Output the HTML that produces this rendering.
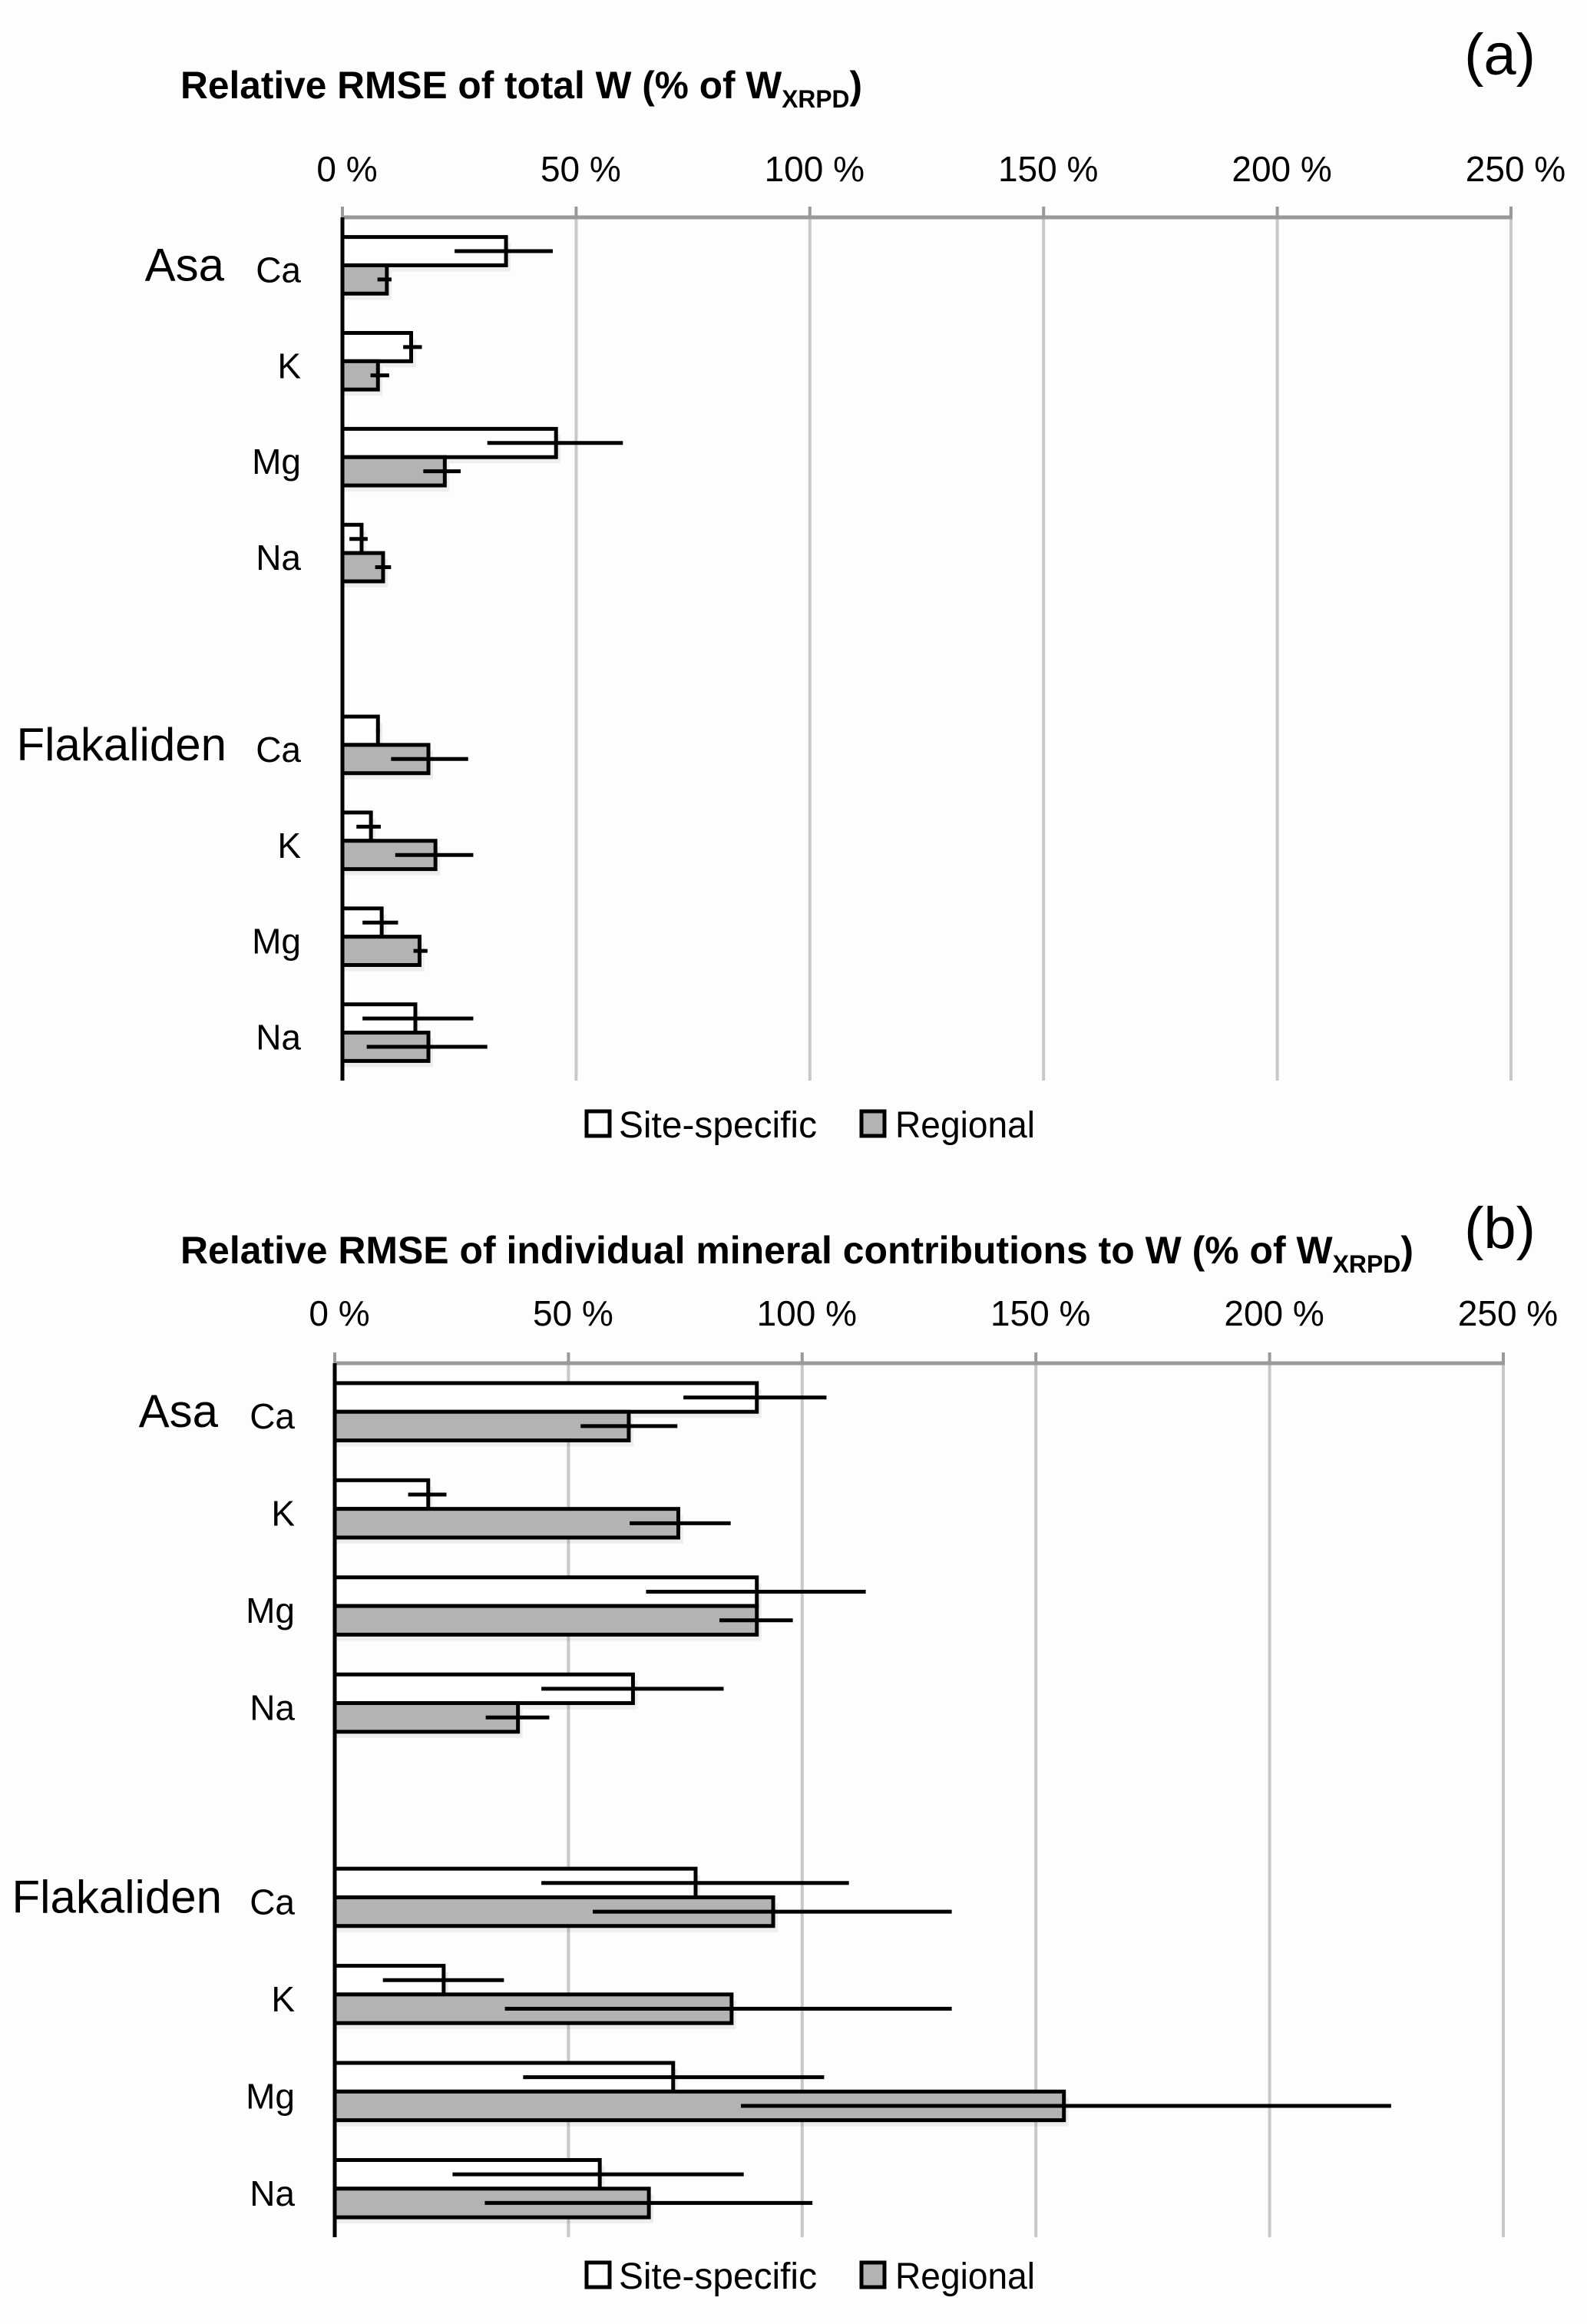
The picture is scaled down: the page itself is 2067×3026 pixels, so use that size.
<!DOCTYPE html>
<html><head><meta charset="utf-8"><style>
html,body{margin:0;padding:0;background:#fdfdfd;}
svg{display:block;}
text{font-family:"Liberation Sans",sans-serif;fill:#000;}
</style></head><body>
<svg id="chart" width="2067" height="3026" viewBox="0 0 2067 3026" xmlns="http://www.w3.org/2000/svg">
<rect x="0" y="0" width="2067" height="3026" fill="#fdfdfd"/>
</svg>
<script>
const categories = ["Ca","K","Mg","Na","","Ca","K","Mg","Na"];
const sites = ["Asa","Flakaliden"];
const tickLabels = ["0 %","50 %","100 %","150 %","200 %","250 %"];
const tickValues = [0,50,100,150,200,250];
// panel a values (% of W_XRPD)
const aSite = [35,14.7,45.7,4.1,null,7.6,6.1,8.4,15.6];
const aSiteLo = [24,13,31,1.5,null,7.2,3,4.3,4.3];
const aSiteHi = [45,17,60,5.4,null,8,8.2,11.9,28];
const aReg = [9.5,7.6,21.9,8.7,null,18.4,19.9,16.5,18.4];
const aRegLo = [7.5,6,17.3,7,null,10.4,11.3,15.2,5.2];
const aRegHi = [10.5,10,25.3,10.4,null,26.9,28,18.2,31];
// panel b values
const bSite = [90.3,20,90.3,63.8,null,77.2,23.3,72.4,56.7];
const bSiteLo = [74.6,15.7,66.6,44.2,null,44.2,10.3,40.3,25.2];
const bSiteHi = [105.2,23.9,113.6,83.2,null,110,36.2,104.7,87.5];
const bReg = [62.9,73.5,90.3,39.2,null,93.8,84.9,156,67.2];
const bRegLo = [52.6,63.1,82.3,32.3,null,55.2,36.4,86.9,32.1];
const bRegHi = [73.3,84.7,98,45.9,null,132,132,226,102.2];

const NS="http://www.w3.org/2000/svg";
const svg=document.getElementById('chart');
function el(tag,attrs,parent){const e=document.createElementNS(NS,tag);for(const k in attrs)e.setAttribute(k,attrs[k]);(parent||svg).appendChild(e);return e;}

function panel(cfg){
  const g=el('g',{});
  
  
  const x0=cfg.x0, pxPer=304.4/50, top=cfg.top, bottom=cfg.bottom;
  const xs=v=>x0+v*pxPer;
  const slot=(bottom-top)/categories.length;
  const yc=i=>top+slot*(i+0.5);
  // title
  const t=el('text',{x:cfg.titleX,y:cfg.titleY,'font-size':50,'font-weight':'bold',textLength:cfg.titleLen,lengthAdjust:'spacingAndGlyphs'},g);
  
  
  t.appendChild(document.createTextNode(cfg.title+'W'));
  const sub=el('tspan',{'font-size':32,dy:12},t);sub.textContent='XRPD';
  const cl=el('tspan',{'font-size':50,dy:-12},t);cl.textContent=')';
  const lab=el('text',{x:2000,y:cfg.labelY,'font-size':76,'text-anchor':'end'},g);
  
  
  lab.textContent='('+cfg.id.slice(-1)+')';
  // gridlines & ticks
  tickValues.forEach((v,i)=>{
    if(v>0){const gl=el('line',{x1:xs(v),x2:xs(v),y1:top,y2:bottom,stroke:'#c8c8c8','stroke-width':4},g);
      
      }
    const tk=el('line',{x1:xs(v),x2:xs(v),y1:top-14,y2:top,stroke:'#999','stroke-width':4},g);
    
    
    const tl=el('text',{x:xs(v)+6,y:cfg.tickY,'font-size':46,'text-anchor':'middle'},g);
    
    
    tl.textContent=tickLabels[i];
  });
  const ax=el('line',{x1:x0,x2:xs(250)+2,y1:top,y2:top,stroke:'#999','stroke-width':5},g);
  
  
  const bh=slot*0.295;
  categories.forEach((c,i)=>{
    if(!c)return;
    const cy=yc(i);
    const cl2=el('text',{x:cfg.catX,y:cy+22,'font-size':46,'text-anchor':'end'},g);
    
    
    cl2.textContent=c;
    [[cfg.site,cfg.siteLo,cfg.siteHi,'#ffffff',cy-bh,'site-specific'],[cfg.reg,cfg.regLo,cfg.regHi,'#b3b3b3',cy,'regional']].forEach(s=>{
      const v=s[0][i],y=s[4];
      const sh=el('rect',{x:x0,y:y+8,width:xs(v)-x0+6,height:bh,fill:'#000',opacity:0.06},g);
      
      
      const r=el('rect',{x:x0,y:y,width:xs(v)-x0,height:bh,fill:s[3],stroke:'#000','stroke-width':5},g);
      
      
      const e=el('line',{x1:xs(s[1][i]),x2:xs(s[2][i]),y1:y+bh/2,y2:y+bh/2,stroke:'#000','stroke-width':5},g);
      
      
    });
  });
  const ya=el('line',{x1:x0,x2:x0,y1:top,y2:bottom,stroke:'#000','stroke-width':5},g);
  
  
  sites.forEach((s,k)=>{
    const i=k===0?0:5;
    const st=el('text',{x:cfg.siteX[k],y:yc(i)+20,'font-size':60,'text-anchor':'end'},g);
    
    
    st.textContent=s;
  });
  // legend
  const ly=cfg.legY;
  const l1=el('rect',{x:764,y:ly-16,width:30,height:32,fill:'#fff',stroke:'#000','stroke-width':5},g);
  
  
  const lt1=el('text',{x:806,y:ly+18,'font-size':48,textLength:258,lengthAdjust:'spacingAndGlyphs'},g);
  
  
  lt1.textContent='Site-specific';
  const l2=el('rect',{x:1122,y:ly-16,width:30,height:32,fill:'#b3b3b3',stroke:'#000','stroke-width':5},g);
  
  
  const lt2=el('text',{x:1166,y:ly+18,'font-size':48,textLength:182,lengthAdjust:'spacingAndGlyphs'},g);
  
  
  lt2.textContent='Regional';
}
panel({id:'panel-a',x0:446,top:283,bottom:1407,title:'Relative RMSE of total W (% of ',titleX:235,titleY:128,titleLen:888,labelY:97,tickY:236,catX:392,siteX:[292,295],legY:1463,
  site:aSite,siteLo:aSiteLo,siteHi:aSiteHi,reg:aReg,regLo:aRegLo,regHi:aRegHi});
panel({id:'panel-b',x0:436,top:1775,bottom:2913,title:'Relative RMSE of individual mineral contributions to W  (% of ',titleX:235,titleY:1645,titleLen:1606,labelY:1625,tickY:1726,catX:384,siteX:[284,289],legY:2962,
  site:bSite,siteLo:bSiteLo,siteHi:bSiteHi,reg:bReg,regLo:bRegLo,regHi:bRegHi});
</script>
</body></html>
